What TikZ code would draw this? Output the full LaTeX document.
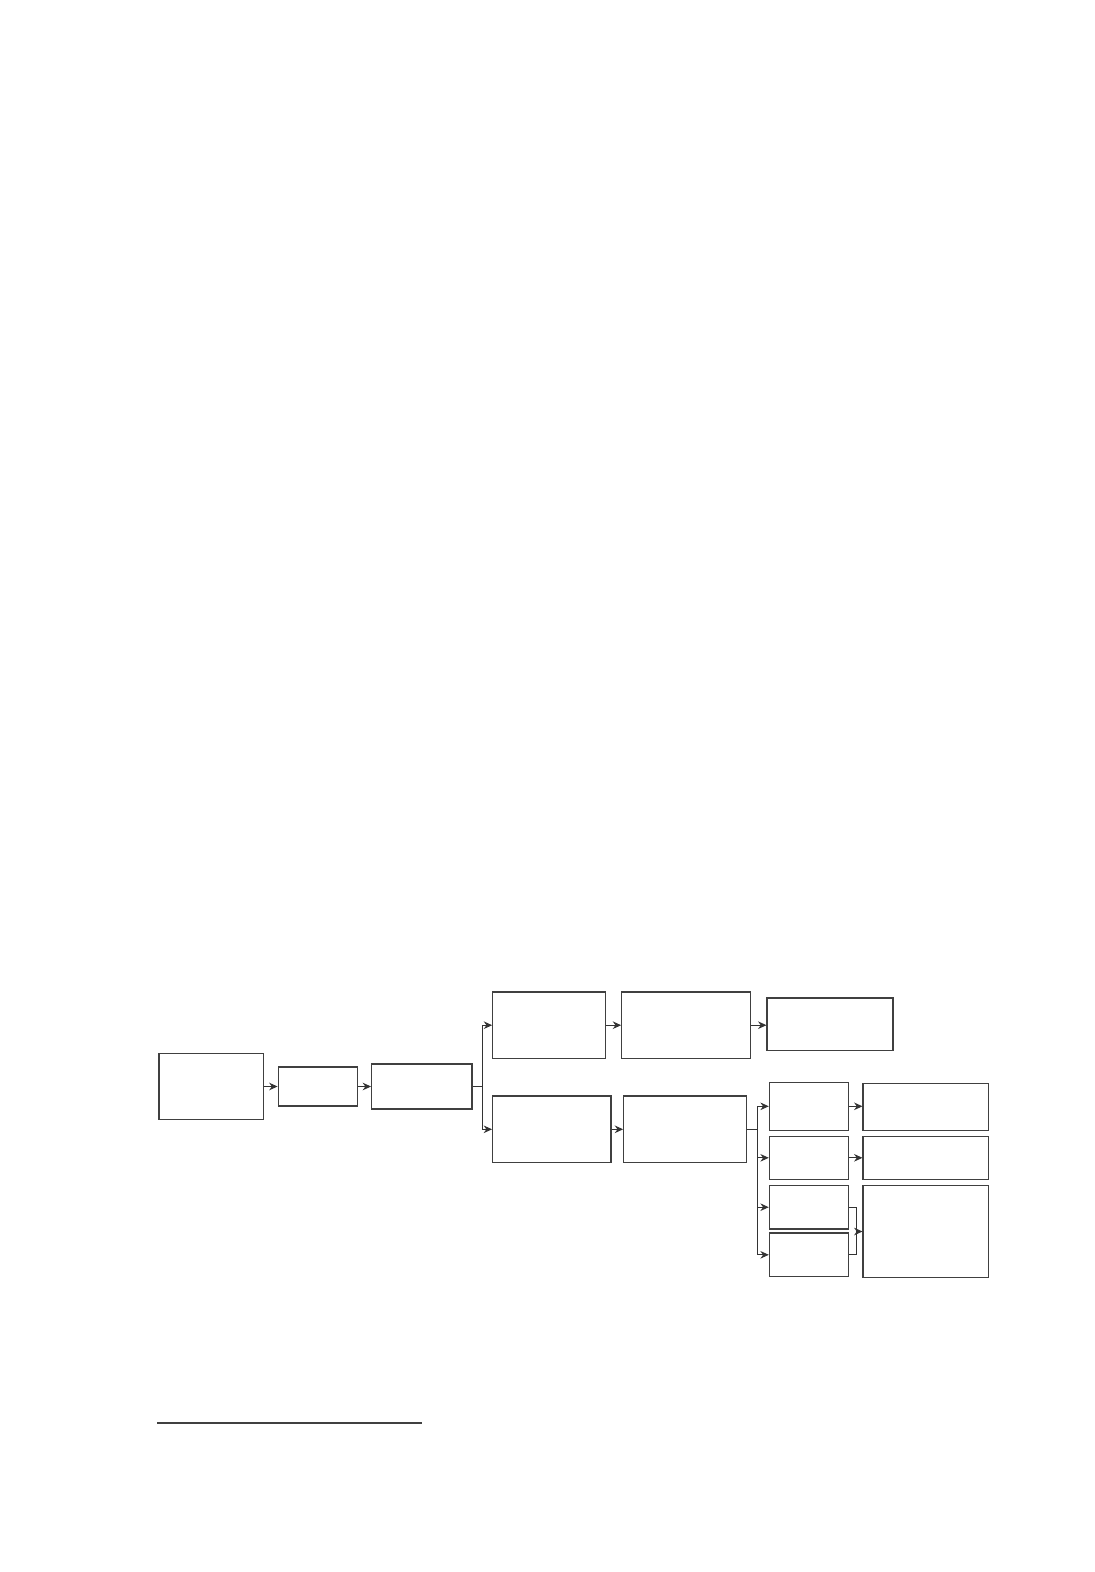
\documentclass[tikz,border=0pt]{standalone}
\usetikzlibrary{arrows.meta}

\tikzset{
    box/.style={rectangle, draw=black!75, line width=0.55pt, inner sep=0pt},
    flow/.style={-{Stealth[length=4.2pt, width=3.8pt]}, draw=black!80, line width=0.5pt},
    link/.style={draw=black!80, line width=0.5pt}
}

\begin{document}
\begin{tikzpicture}[x=0.5pt, y=-0.5pt]
        \useasboundingbox (0,0) rectangle (1094,1572);

        % Nodes
        \node[box, minimum width=52.3pt, minimum height=33.3pt] at (211.3, 1086.5)  (start)  {};
        \node[box, minimum width=39.6pt, minimum height=19.5pt] at (317.7, 1086.5)  (prep)   {};
        \node[box, minimum width=50.2pt, minimum height=22.5pt] at (421.8, 1086.5)  (split)  {};

        \node[box, minimum width=56.3pt, minimum height=33.2pt] at (549.0, 1025.2)  (upa)    {};
        \node[box, minimum width=64.5pt, minimum height=33.2pt] at (686.2, 1025.2)  (upb)    {};
        \node[box, minimum width=63.0pt, minimum height=26.3pt] at (830.0, 1024.3)  (upc)    {};

        \node[box, minimum width=59.2pt, minimum height=33.3pt] at (551.8, 1129.3)  (lowa)   {};
        \node[box, minimum width=61.3pt, minimum height=33.3pt] at (685.0, 1129.3)  (lowb)   {};

        \node[box, minimum width=39.7pt, minimum height=24.0pt] at (809.0, 1106.3)  (ka)     {};
        \node[box, minimum width=39.7pt, minimum height=21.5pt] at (809.0, 1157.8)  (kb)     {};
        \node[box, minimum width=39.7pt, minimum height=21.8pt] at (809.0, 1207.2)  (kc)     {};
        \node[box, minimum width=39.7pt, minimum height=21.8pt] at (809.0, 1254.8)  (kd)     {};

        \node[box, minimum width=62.8pt, minimum height=23.3pt] at (925.8, 1107.0)  (ra)     {};
        \node[box, minimum width=62.8pt, minimum height=21.5pt] at (925.8, 1157.8)  (rb)     {};
        \node[box, minimum width=62.8pt, minimum height=46.2pt] at (925.8, 1231.5)  (rc)     {};

        % Branch points
        \coordinate (fork)  at (482.0, 1086.5);
        \coordinate (forkb) at (757.7, 1129.3);
        \coordinate (join)  at (856.0, 1231.5);

        \draw[flow]  (start) -- (prep);
        \draw[flow]  (prep) -- (split);

        \draw[link]  (split) -- (fork);
        \draw[flow]  (fork) |- (upa);
        \draw[flow]  (fork) |- (lowa);

        \draw[flow]  (upa) -- (upb);
        \draw[flow]  (upb.east) -- (upc.west |- upb.east);
        \draw[flow]  (lowa) -- (lowb);

        \draw[link]  (lowb) -- (forkb);
        \draw[flow]  (forkb) |- (ka);
        \draw[flow]  (forkb) |- (kb);
        \draw[flow]  (forkb) |- (kc);
        \draw[flow]  (forkb) |- (kd);

        \draw[flow]  (ka.east) -- (ra.west |- ka.east);
        \draw[flow]  (kb) -- (rb);

        \draw[link]  (kc.east) -| (join);
        \draw[link]  (kd.east) -| (join);
        \draw[flow]  (join) -- (rc);

        % Footnote rule
        \draw[black!75, line width=0.8pt]  (157, 1423) -- (421.7, 1423);
    \end{tikzpicture}
\end{document}
